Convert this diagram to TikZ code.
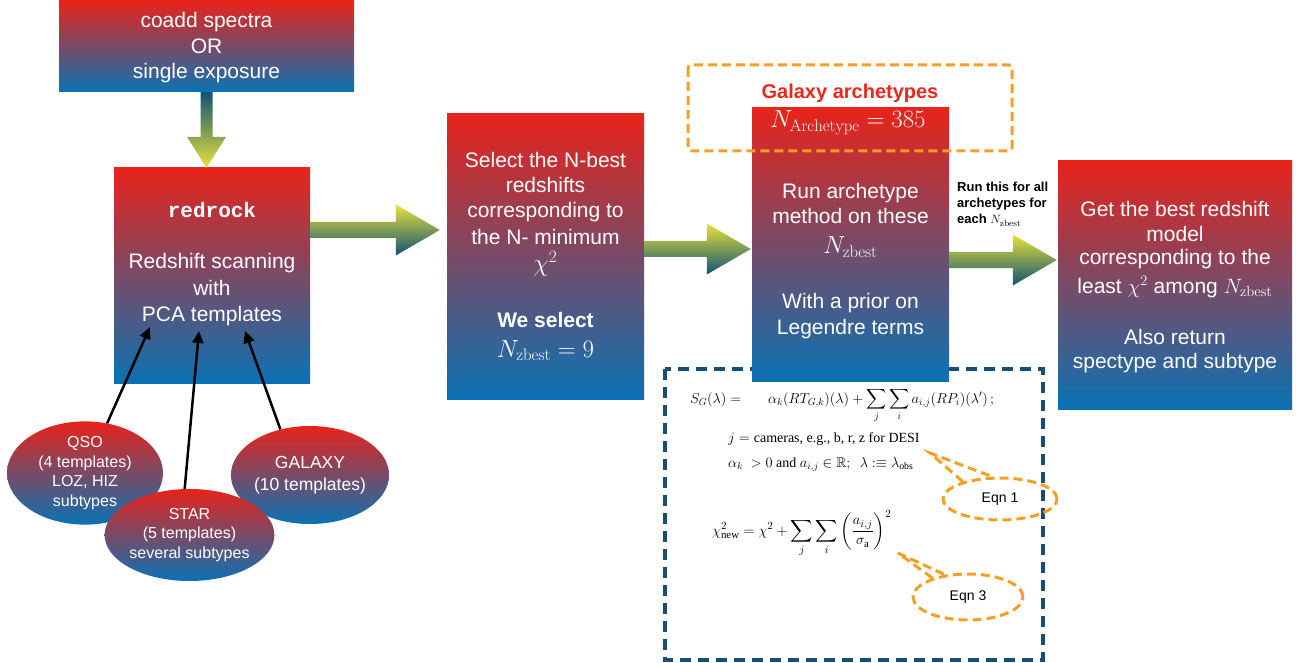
\documentclass[tikz,border=0pt]{standalone}
\usepackage{amsmath,amssymb}
\usepackage{fontspec}
\setsansfont{Liberation Sans}
\setmonofont{Liberation Mono}
\newfontfamily\timesf{Liberation Serif}
\usetikzlibrary{shapes.geometric,arrows.meta,calc}
\definecolor{cRed}{RGB}{232,35,26}
\definecolor{cBlue}{RGB}{10,114,180}
\definecolor{aYel}{RGB}{232,226,58}
\definecolor{aTeal}{RGB}{16,82,115}
\definecolor{cOr}{RGB}{245,160,35}
\definecolor{cDB}{RGB}{22,78,120}
\definecolor{tRed}{RGB}{236,40,28}
\tikzset{
  grad/.style={rectangle, inner sep=0pt, top color=cRed, bottom color=cBlue, draw=none},
  bt/.style={anchor=base, text=white, inner sep=0pt, font=\sffamily\fontsize{21}{25}\selectfont},
  btb/.style={bt, font=\sffamily\bfseries\fontsize{21}{25}\selectfont},
  btm/.style={bt, font=\fontsize{24}{28}\selectfont},
  ell/.style={ellipse, inner sep=0pt, top color=cRed, bottom color=cBlue, draw=none, text=white, align=center},
  arr/.style={top color=aYel, bottom color=aTeal, draw=none},
  lnk/.style={line width=2.5pt, -{Triangle[length=12pt,width=11pt]}},
  odash/.style={draw=cOr, line width=3pt, dash pattern=on 9pt off 5pt},
  bdash/.style={draw=cDB, line width=3.5pt, dash pattern=on 11pt off 7pt},
  eqf/.style={inner sep=0pt, anchor=base west, font=\timesf\fontsize{14}{17}\selectfont},
  note/.style={inner sep=0pt, anchor=base west, font=\sffamily\bfseries\fontsize{13}{16}\selectfont},
}
\newcommand\harr[2]{\shade[arr] let \p1=(#1), \p2=(#2) in
 (\x1,\y2+8pt) -- (\x2-44pt,\y2+8pt) -- (\x2-44pt,\y2+25.5pt) -- (\x2,\y2) --
 (\x2-44pt,\y2-25.5pt) -- (\x2-44pt,\y2-8pt) -- (\x1,\y2-8pt) -- cycle;}
\newcommand\varr[2]{\shade[top color=aTeal, bottom color=aYel, draw=none] let \p1=(#1), \p2=(#2) in
 (\x1-6pt,\y1) -- (\x1-6pt,\y2+31pt) -- (\x1-19.5pt,\y2+31pt) -- (\x1,\y2) --
 (\x1+19.5pt,\y2+31pt) -- (\x1+6pt,\y2+31pt) -- (\x1+6pt,\y1) -- cycle;}
\begin{document}
\begin{tikzpicture}[x=1pt,y=-1pt]
\fill[white] (0,0) rectangle (1296,663);
\useasboundingbox (0,0) rectangle (1296,663);

% boxes
\node[grad, minimum width=295pt, minimum height=91pt] (box1) at (206.5,46.5) {};
\node[grad, minimum width=196pt, minimum height=215pt] (box2) at (212,275.5) {};
\node[grad, minimum width=197pt, minimum height=285pt] (box3) at (545.5,256.5) {};
\draw[bdash] (665,369) rectangle (1043,660);
\node[grad, minimum width=197pt, minimum height=273pt] (box4) at (850.5,244.5) {};
\node[grad, minimum width=234pt, minimum height=248pt] (box5) at (1175,285) {};
\draw[odash, rounded corners=3pt] (688,65) rectangle (1012,151);

% box texts
\node[bt] (t1a) at (206.5,28) {coadd spectra};
\node[bt] (t1b) at (206.5,54) {OR};
\node[bt] (t1c) at (206.5,79) {single exposure};

\node[bt, font=\ttfamily\bfseries\fontsize{21}{25}\selectfont] (t2a) at (212,218) {redrock};
\node[bt] (t2b) at (212,269) {Redshift scanning};
\node[bt] (t2c) at (212,295) {with};
\node[bt] (t2d) at (212,321) {PCA templates};

\node[bt] (t3a) at (545.5,168) {Select the N-best};
\node[bt] (t3b) at (545.5,193) {redshifts};
\node[bt] (t3c) at (545.5,218) {corresponding to};
\node[bt] (t3d) at (545.5,244) {the N- minimum};
\node[btm] (t3e) at (545.5,272) {$\chi^2$};
\node[btb] (t3f) at (545.5,327) {We select};
\node[btm] (t3g) at (545.5,357) {$N_{\mathrm{zbest}} = 9$};

\node[bt, text=tRed, font=\sffamily\bfseries\fontsize{20}{24}\selectfont] (t4a) at (850,99) {Galaxy archetypes};
\node[bt, font=\fontsize{24}{28}\selectfont] (t4b) at (848,128) {$N_{\mathrm{Archetype}} = 385$};
\node[bt] (t4c) at (850.5,199) {Run archetype};
\node[bt] (t4d) at (850.5,224) {method on these};
\node[btm] (t4e) at (850.5,254) {$N_{\mathrm{zbest}}$};
\node[bt] (t4f) at (850.5,308) {With a prior on};
\node[bt] (t4g) at (850.5,334) {Legendre terms};

\node[bt] (t5a) at (1175,217) {Get the best redshift};
\node[bt] (t5b) at (1175,242) {model};
\node[bt] (t5c) at (1175,265) {corresponding to the};
\node[bt] (t5d) at (1175,293) {least $\chi^2$ among $N_{\mathrm{zbest}}$};
\node[bt] (t5e) at (1175,344) {Also return};
\node[bt] (t5f) at (1175,368) {spectype and subtype};

% note
\node[note] (n1) at (957,192) {Run this for all};
\node[note] (n2) at (957,208) {archetypes for};
\node[note] (n3) at (957,224) {each $N_{\mathrm{zbest}}$};

% fat arrows
\varr{box1.south}{box1.south |- box2.north}
\harr{box2.east |- 0,230}{$(box3.west |- 0,230)+(-7,0)$}
\harr{box3.east |- 0,249}{$(box4.west |- 0,249)+(-1,0)$}
\harr{box4.east |- 0,260}{$(box5.west |- 0,260)+(-1,0)$}

% template ellipses
\node[ell, minimum width=156pt, minimum height=90pt, font=\sffamily\fontsize{16}{19.5}\selectfont] (qso) at (85,473) {QSO\\(4 templates)\\LOZ, HIZ\\subtypes};
\node[ell, minimum width=158pt, minimum height=98pt, font=\sffamily\fontsize{17.5}{22}\selectfont] (galaxy) at (310,475) {GALAXY\\(10 templates)};
\node[ell, minimum width=144pt, minimum height=92pt, font=\sffamily\fontsize{16}{19.5}\selectfont] (star) at (189.5,535) {STAR\\(5 templates)\\several subtypes};

\coordinate (tq) at (150,327);
\coordinate (ts) at (199,331);
\coordinate (tg) at (245,331);
\draw[lnk] (qso.66) -- (tq);
\draw[lnk] (star.96) -- (ts);
\draw[lnk] (galaxy.123) -- (tg);

% equations
\node[eqf] (eqa) at (690,403) {$S_G(\lambda) =$};
\node[eqf] (eqb) at (768,403) {$\displaystyle \alpha_k(RT_{G,k})(\lambda)+\sum_j\sum_i a_{i,j}(RP_i)(\lambda')\,;$};
\node[eqf] (eqc) at (728,442) {$j = \text{cameras, e.g., b, r, z for DESI}$};
\node[eqf] (eqd) at (728,467) {$\alpha_k\ > 0 \text{ and } a_{i,j}\in\mathbb{R};\ \ \lambda :\equiv \lambda_{\text{obs}}$};
\node[eqf, font=\timesf\fontsize{15.5}{18}\selectfont] (eqe) at (712,535) {$\displaystyle \chi^2_{\text{new}} = \chi^2 + \sum_j\sum_i\left(\frac{a_{i,j}}{\sigma_{\text{a}}}\right)^2$};

% callouts
\node[ellipse, odash, minimum width=114pt, minimum height=42pt, inner sep=0pt, font=\sffamily\fontsize{14}{16}\selectfont] (eq1) at (1000,499) {Eqn 1};
\node[ellipse, odash, minimum width=110pt, minimum height=46pt, inner sep=0pt, font=\sffamily\fontsize{14}{16}\selectfont] (eq3) at (968,597) {Eqn 3};
\coordinate (e1tip) at (930,453);
\coordinate (e3tip) at (898,553);
\draw[odash] (eq1.155) -- (e1tip) -- (eq1.109);
\draw[odash] (eq3.152) -- (e3tip) -- (eq3.136);
\end{tikzpicture}
\end{document}
